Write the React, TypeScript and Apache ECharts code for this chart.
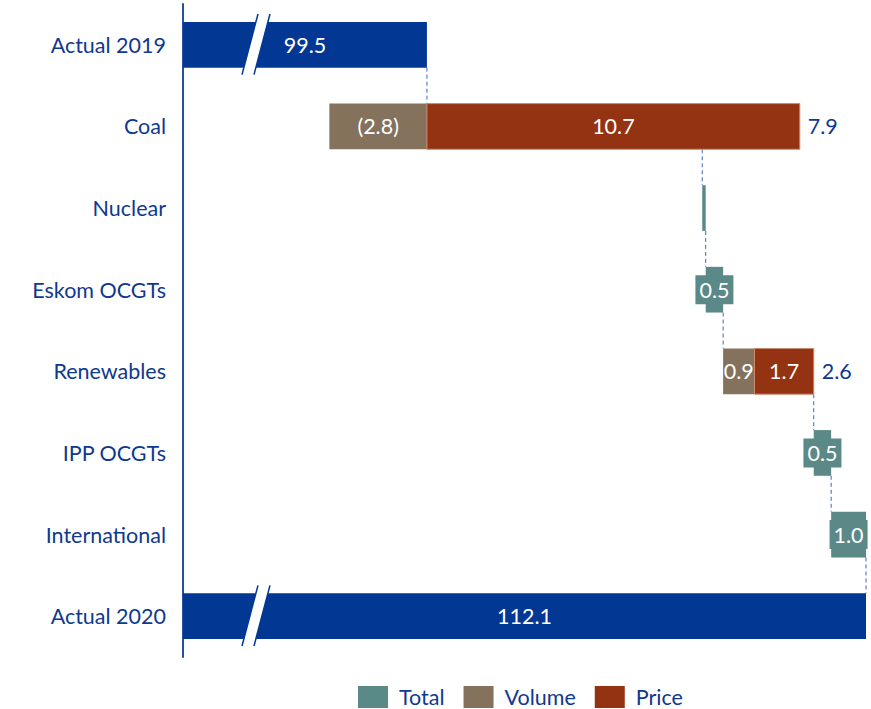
import React, { useEffect, useRef } from 'react';
import * as echarts from 'echarts';

const categories = ['Actual 2019', 'Coal', 'Nuclear', 'Eskom OCGTs', 'Renewables', 'IPP OCGTs', 'International', 'Actual 2020'];
const actualValues: (number | null)[] = [99.5, null, null, null, null, null, null, 112.1];
const volumeValues: (number | null)[] = [null, -2.8, null, null, 0.9, null, null, null];
const priceValues: (number | null)[] = [null, 10.7, null, null, 1.7, null, null, null];
const totalValues: (number | null)[] = [null, 7.9, 0.1, 0.5, 2.6, 0.5, 1.0, null];
const legendNames = ['Total', 'Volume', 'Price'];
const axisMin = 92.5;
const axisMax = 112.1;

const NAVY_TEXT = '#0f3890';
const ACTUAL = '#023894';
const TEAL = '#5b8987';
const VOLUME = '#84725d';
const PRICE = '#943311';
const CONNECT = '#3d66c4';
const FONT = 'Lato, "Open Sans", sans-serif';
const BAR_RATIO = 0.56;
const FS = 21.5;

const fmt = (v: number) => (v < 0 ? `(${Math.abs(v).toFixed(1)})` : v.toFixed(1));

// Build waterfall segments from the data arrays
function buildSegments() {
  const actualData: number[][] = [];
  actualValues.forEach((v, i) => { if (v != null) actualData.push([v, i]); });
  const volSeg: number[][] = [];
  const priceSeg: number[][] = [];
  const totalSeg: number[][] = [];
  const netLabels: number[][] = [];
  const connectors: number[][] = [];
  let running = actualValues[0] as number;
  connectors.push([running, 0]);
  for (let i = 1; i < categories.length - 1; i++) {
    const start = running;
    const net = totalValues[i] as number;
    const hasBreakdown = volumeValues[i] != null || priceValues[i] != null;
    if (hasBreakdown) {
      let pos = start;
      let neg = start;
      const parts: [number | null, number[][]][] = [[volumeValues[i], volSeg], [priceValues[i], priceSeg]];
      parts.forEach(([val, arr]) => {
        if (val == null) return;
        if (val >= 0) { arr.push([pos, pos + val, i, val]); pos += val; }
        else { arr.push([neg + val, neg, i, val]); neg += val; }
      });
      netLabels.push([pos, i, net]);
    } else {
      totalSeg.push([start, start + net, i, net]);
    }
    running = start + net;
    connectors.push([running, i]);
  }
  return { actualData, volSeg, priceSeg, totalSeg, netLabels, connectors };
}

function segRenderer(color: string, boxed: boolean, stroke?: string) {
  return (params: any, api: any) => {
    const row = api.value(2);
    const s = api.coord([api.value(0), row]);
    const e = api.coord([api.value(1), row]);
    const band = api.size([0, 1])[1];
    const h = band * BAR_RATIO;
    const v = api.value(3);
    const children: any[] = [
      {
        type: 'rect',
        shape: { x: s[0], y: s[1] - h / 2, width: e[0] - s[0], height: h },
        style: stroke ? { fill: color, stroke, lineWidth: 1 } : { fill: color },
      },
    ];
    if (Math.abs(v) >= 0.2) {
      const style: any = {
        text: fmt(v),
        fill: '#ffffff',
        fontSize: FS,
        fontFamily: FONT,
        align: 'center',
        verticalAlign: 'middle',
      };
      if (boxed) {
        style.backgroundColor = color;
        style.padding = [4, 4, 3, 4];
      }
      children.push({ type: 'text', x: (s[0] + e[0]) / 2, y: s[1], style });
    }
    return { type: 'group', children };
  };
}

export default function App() {
  const ref = useRef<HTMLDivElement>(null);
  useEffect(() => {
    if (!ref.current) return;
    const chart = echarts.init(ref.current, undefined, { renderer: 'svg' });
    const { actualData, volSeg, priceSeg, totalSeg, netLabels, connectors } = buildSegments();

    const option: any = {
      animation: false,
      grid: { left: 183, right: 5, top: 4, bottom: 52, containLabel: false },
      xAxis: { type: 'value', min: axisMin, max: axisMax, show: false },
      yAxis: {
        type: 'category',
        data: categories,
        inverse: true,
        axisTick: { show: false },
        axisLine: { show: true, lineStyle: { color: '#2a4ea0', width: 2 } },
        axisLabel: { color: NAVY_TEXT, fontSize: FS, fontFamily: FONT, margin: 17 },
        splitLine: { show: false },
      },
      legend: {
        data: legendNames,
        left: 358,
        top: 686,
        padding: 0,
        icon: 'rect',
        itemWidth: 30,
        itemHeight: 22,
        itemGap: 19,
        textStyle: { fontSize: FS, color: NAVY_TEXT, fontFamily: FONT, lineHeight: 22, padding: [0, 0, 0, 6] },
      },
      series: [
        {
          type: 'custom',
          name: 'Connectors',
          data: connectors,
          encode: { x: 0, y: 1 },
          z: 1,
          renderItem: (params: any, api: any) => {
            const row = api.value(1);
            const a = api.coord([api.value(0), row]);
            const b = api.coord([api.value(0), row + 1]);
            const h = api.size([0, 1])[1] * BAR_RATIO;
            return {
              type: 'line',
              shape: { x1: a[0], y1: a[1] + h / 2, x2: b[0], y2: b[1] - h / 2 },
              style: { stroke: CONNECT, lineWidth: 1, lineDash: [4, 3] },
            };
          },
        },
        {
          type: 'custom',
          name: 'Actual',
          data: actualData,
          encode: { x: 0, y: 1 },
          itemStyle: { color: ACTUAL },
          z: 2,
          renderItem: (params: any, api: any) => {
            const cs = params.coordSys;
            const row = api.value(1);
            const end = api.coord([api.value(0), row]);
            const h = api.size([0, 1])[1] * BAR_RATIO;
            const x0 = cs.x;
            const yTop = end[1] - h / 2;
            const yBot = end[1] + h / 2;
            const bl = x0 + 59;
            const tl = x0 + 75;
            const gap = 12;
            return {
              type: 'group',
              children: [
                { type: 'rect', shape: { x: x0, y: yTop, width: end[0] - x0, height: h }, style: { fill: ACTUAL } },
                {
                  type: 'polygon',
                  shape: { points: [[bl, yBot + 7], [tl, yTop - 8], [tl + gap, yTop - 8], [bl + gap, yBot + 7]] },
                  style: { fill: '#ffffff' },
                },
                { type: 'line', shape: { x1: bl, y1: yBot + 7, x2: tl, y2: yTop - 8 }, style: { stroke: ACTUAL, lineWidth: 1.5 } },
                { type: 'line', shape: { x1: bl + gap, y1: yBot + 7, x2: tl + gap, y2: yTop - 8 }, style: { stroke: ACTUAL, lineWidth: 1.5 } },
                {
                  type: 'text',
                  x: (x0 + end[0]) / 2,
                  y: end[1],
                  style: {
                    text: fmt(api.value(0)),
                    fill: '#ffffff',
                    fontSize: FS,
                    fontFamily: FONT,
                    align: 'center',
                    verticalAlign: 'middle',
                  },
                },
              ],
            };
          },
        },
        {
          type: 'custom',
          name: 'Total',
          data: totalSeg,
          encode: { x: [0, 1], y: 2 },
          itemStyle: { color: TEAL },
          z: 3,
          renderItem: segRenderer(TEAL, true),
        },
        {
          type: 'custom',
          name: 'Volume',
          data: volSeg,
          encode: { x: [0, 1], y: 2 },
          itemStyle: { color: VOLUME },
          z: 3,
          renderItem: segRenderer(VOLUME, false),
        },
        {
          type: 'custom',
          name: 'Price',
          data: priceSeg,
          encode: { x: [0, 1], y: 2 },
          itemStyle: { color: PRICE },
          z: 3,
          renderItem: segRenderer(PRICE, false, '#c98a70'),
        },
        {
          type: 'custom',
          name: 'Net',
          data: netLabels,
          encode: { x: 0, y: 1 },
          z: 3,
          renderItem: (params: any, api: any) => {
            const p = api.coord([api.value(0), api.value(1)]);
            return {
              type: 'text',
              x: p[0] + 8,
              y: p[1],
              style: {
                text: fmt(api.value(2)),
                fill: NAVY_TEXT,
                fontSize: FS,
                fontFamily: FONT,
                align: 'left',
                verticalAlign: 'middle',
              },
            };
          },
        },
      ],
    };
    chart.setOption(option);
    return () => chart.dispose();
  }, []);
  return (
    <div
      ref={ref}
      style={{ position: 'absolute', left: 0, top: 0, width: 871, height: 709, background: '#ffffff' }}
    />
  );
}
